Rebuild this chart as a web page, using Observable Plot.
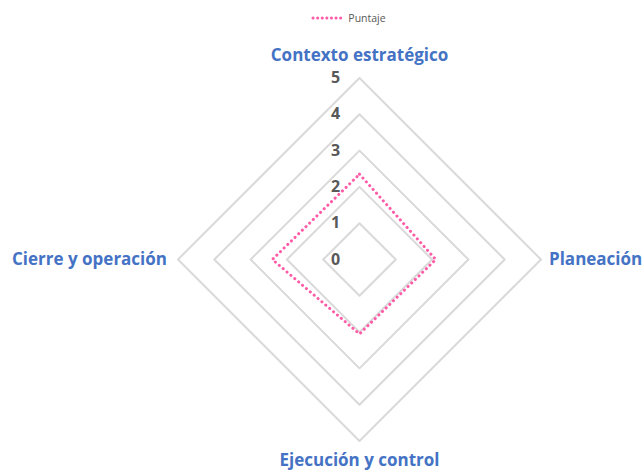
<!DOCTYPE html>
<html>
<head>
<meta charset="utf-8">
<script src="https://cdn.jsdelivr.net/npm/d3@7"></script>
<script src="https://cdn.jsdelivr.net/npm/@observablehq/plot@0.6"></script>
<style>
  html, body { margin: 0; padding: 0; background: #fff; }
  body { width: 643px; height: 471px; overflow: hidden; font-family: "Open Sans", Lato, sans-serif; }
  #legend { height: 30px; display: flex; align-items: center; justify-content: center; font-size: 10.5px; color: #595959; padding-left: 54px; box-sizing: border-box; padding-top: 5px; }
  #legend svg { margin-right: 3px; }
</style>
</head>
<body>
<div id="legend"></div>
<div id="chart"></div>
<script>
const categories = ["Contexto estratégico", "Planeación", "Ejecución y control", "Cierre y operación"];
const seriesName = "Puntaje";
const values = [2.35, 2.1, 2.05, 2.4];
const tickLabels = [0, 1, 2, 3, 4, 5];

const maxV = 5;
const pxPerUnit = 36.3;
const W = 643, H = 441;
const cx = 359, cy = 229;

const angle = i => (i * 2 * Math.PI) / categories.length;
const toXY = (v, i) => ({ x: v * Math.sin(angle(i)), y: v * Math.cos(angle(i)) });

// grid rings
const rings = [];
for (const lvl of tickLabels.slice(1)) {
  for (let i = 0; i <= categories.length; i++) {
    const p = toXY(lvl, i % categories.length);
    rings.push({ ...p, lvl });
  }
}
// data polygon
const poly = [];
for (let i = 0; i <= categories.length; i++) {
  const k = i % categories.length;
  poly.push({ ...toXY(values[k], k), name: seriesName });
}
// tick labels
const ticks = tickLabels.map(t => ({ x: 0, y: t, label: String(t) }));
// category labels
const anchors = ["middle", "start", "middle", "end"];
const dxs = [0, 8, 0, -11];
const dys = [-22, 0, 20, 0];
const cats = categories.map((c, i) => ({ ...toXY(maxV, i), label: c, i }));

const xDom = [-cx / pxPerUnit, (W - cx) / pxPerUnit];
const yDom = [-(H - cy) / pxPerUnit, cy / pxPerUnit];

const plot = Plot.plot({
  width: W,
  height: H,
  margin: 0,
  x: { type: "linear", domain: xDom, range: [0, W], axis: null },
  y: { type: "linear", domain: yDom, range: [H, 0], axis: null },
  style: { fontFamily: "'Open Sans', Lato, sans-serif", background: "#fff" },
  marks: [
    Plot.line(rings, { x: "x", y: "y", z: "lvl", stroke: "#d9d9d9", strokeWidth: 2 }),
    Plot.line(poly, { x: "x", y: "y", stroke: "#ff5ca8", strokeWidth: 3, strokeDasharray: "0.1 5", strokeLinecap: "round" }),
    Plot.text(ticks, { x: "x", y: "y", text: "label", dx: -24, fill: "#595959", fontSize: 16, fontWeight: "bold" }),
    ...cats.map(c => Plot.text([c], { x: "x", y: "y", text: "label", textAnchor: anchors[c.i], dx: dxs[c.i], dy: dys[c.i], fill: "#4472c4", fontSize: 17, fontWeight: "bold" }))
  ]
});
document.getElementById("chart").appendChild(plot);

// legend
const lg = document.getElementById("legend");
const ls = d3.create("svg").attr("width", 34).attr("height", 10);
ls.append("line").attr("x1", 2).attr("x2", 32).attr("y1", 5).attr("y2", 5)
  .attr("stroke", "#ff5ca8").attr("stroke-width", 3).attr("stroke-dasharray", "0.1 4.5").attr("stroke-linecap", "round");
lg.appendChild(ls.node());
const sp = document.createElement("span");
sp.textContent = seriesName;
lg.appendChild(sp);
</script>
</body>
</html>
